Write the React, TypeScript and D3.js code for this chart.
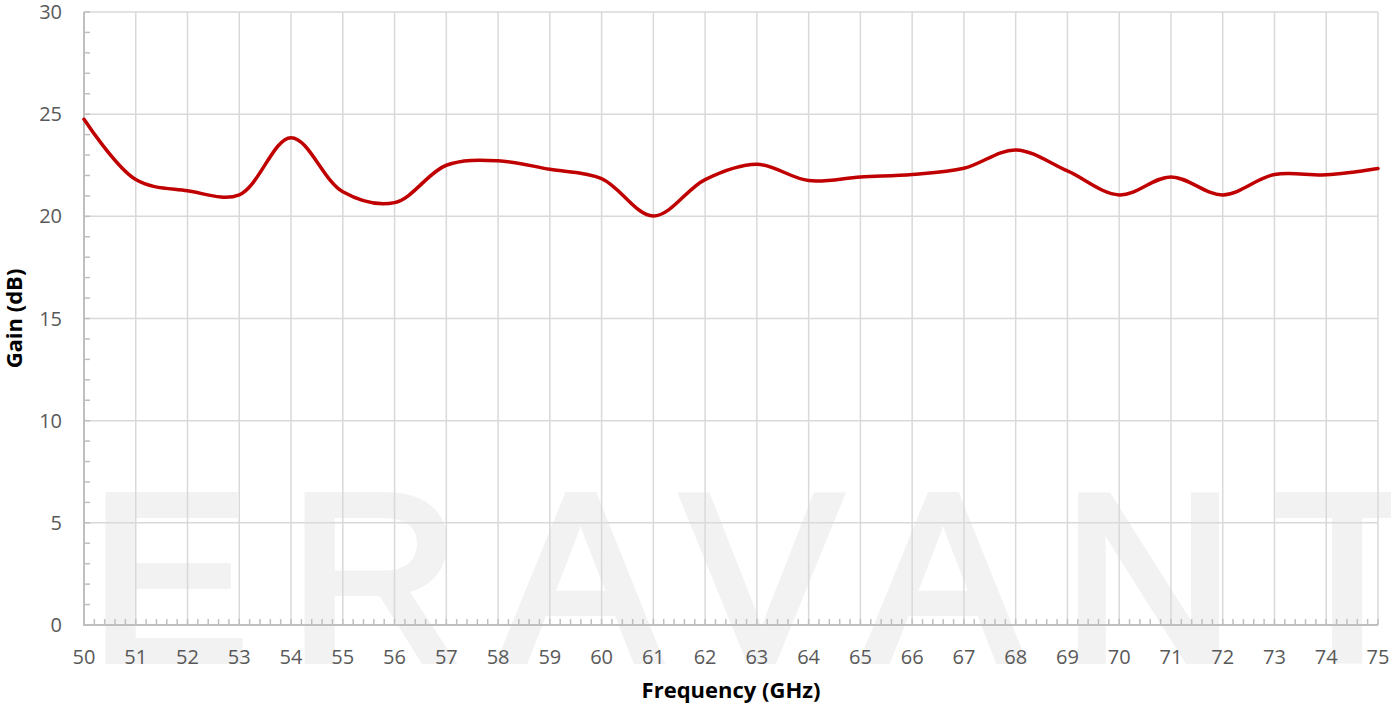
import React, { useEffect, useRef } from 'react';
import * as d3 from 'd3';

const freqs = [50, 51, 52, 53, 54, 55, 56, 57, 58, 59, 60, 61, 62, 63, 64, 65, 66, 67, 68, 69, 70, 71, 72, 73, 74, 75];
const gain = [24.75, 21.8, 21.25, 21.05, 23.85, 21.2, 20.67, 22.5, 22.72, 22.3, 21.85, 20.02, 21.8, 22.55, 21.75, 21.93, 22.05, 22.35, 23.25, 22.22, 21.05, 21.93, 21.05, 22.05, 22.03, 22.34];
const yTicks = [0, 5, 10, 15, 20, 25, 30];
const xTicks = d3.range(50, 76);

const App = () => {
  const svgRef = useRef<SVGSVGElement>(null);

  useEffect(() => {
    const svg = d3.select(svgRef.current);
    svg.selectAll('*').remove();

    const width = 1391;
    const height = 704;
    const margin = { top: 12, right: 13, bottom: 79, left: 84 };
    const font = '"Open Sans", "Liberation Sans", sans-serif';

    const x = d3.scaleLinear().domain([50, 75]).range([margin.left, width - margin.right]);
    const y = d3.scaleLinear().domain([0, 30]).range([height - margin.bottom, margin.top]);

    svg.append('rect').attr('width', width).attr('height', height).attr('fill', '#fff');

    // watermark
    svg.append('text')
      .attr('x', 90)
      .attr('y', 660)
      .attr('textLength', 1330)
      .attr('lengthAdjust', 'spacing')
      .attr('font-family', '"Liberation Sans", Arial, sans-serif')
      .attr('font-size', 238)
      .attr('fill', '#f2f2f2')
      .attr('stroke', '#f2f2f2')
      .attr('stroke-width', 8)
      .attr('stroke-linejoin', 'miter')
      .text('ERAVANT');

    // grid
    svg.append('g')
      .selectAll('line')
      .data(xTicks.slice(1))
      .enter()
      .append('line')
      .attr('x1', d => x(d)).attr('x2', d => x(d))
      .attr('y1', y(30)).attr('y2', y(0))
      .attr('stroke', '#d9d9d9')
      .attr('stroke-width', 1.5);

    svg.append('g')
      .selectAll('line')
      .data(yTicks.slice(1))
      .enter()
      .append('line')
      .attr('x1', x(50)).attr('x2', x(75))
      .attr('y1', d => y(d)).attr('y2', d => y(d))
      .attr('stroke', '#d9d9d9')
      .attr('stroke-width', 1.5);

    // minor ticks
    svg.append('g')
      .selectAll('line')
      .data(d3.range(0, 31, 1))
      .enter()
      .append('line')
      .attr('x1', x(50)).attr('x2', x(50) + 6)
      .attr('y1', d => y(d)).attr('y2', d => y(d))
      .attr('stroke', '#bfbfbf')
      .attr('stroke-width', 1.5);

    svg.append('g')
      .selectAll('line')
      .data(d3.range(0, 126).map(i => 50 + i * 0.2))
      .enter()
      .append('line')
      .attr('x1', d => x(d)).attr('x2', d => x(d))
      .attr('y1', y(0)).attr('y2', y(0) - 6)
      .attr('stroke', '#bfbfbf')
      .attr('stroke-width', 1.5);

    // axis lines
    svg.append('line')
      .attr('x1', x(50)).attr('x2', x(50))
      .attr('y1', y(30)).attr('y2', y(0) + 1)
      .attr('stroke', '#bfbfbf').attr('stroke-width', 2);
    svg.append('line')
      .attr('x1', x(50) - 1).attr('x2', x(75))
      .attr('y1', y(0)).attr('y2', y(0))
      .attr('stroke', '#bfbfbf').attr('stroke-width', 2);

    // tick labels
    svg.append('g')
      .selectAll('text')
      .data(yTicks)
      .enter()
      .append('text')
      .attr('x', 62)
      .attr('y', d => y(d))
      .attr('dy', '0.35em')
      .attr('text-anchor', 'end')
      .attr('font-family', font)
      .attr('font-size', 20)
      .attr('fill', '#595959')
      .text(d => d);

    svg.append('g')
      .selectAll('text')
      .data(xTicks)
      .enter()
      .append('text')
      .attr('x', d => x(d))
      .attr('y', 664)
      .attr('text-anchor', 'middle')
      .attr('font-family', font)
      .attr('font-size', 20)
      .attr('fill', '#595959')
      .text(d => d);

    // axis titles
    svg.append('text')
      .attr('x', (x(50) + x(75)) / 2)
      .attr('y', 698)
      .attr('text-anchor', 'middle')
      .attr('font-family', font)
      .attr('font-weight', 'bold')
      .attr('font-size', 22)
      .attr('fill', '#000')
      .text('Frequency (GHz)');

    svg.append('text')
      .attr('transform', `translate(22,${(y(0) + y(30)) / 2}) rotate(-90)`)
      .attr('text-anchor', 'middle')
      .attr('font-family', font)
      .attr('font-weight', 'bold')
      .attr('font-size', 22)
      .attr('fill', '#000')
      .text('Gain (dB)');

    // series
    const line = d3.line<number>()
      .x((d, i) => x(freqs[i]))
      .y(d => y(d))
      .curve(d3.curveCatmullRom);

    svg.append('path')
      .datum(gain)
      .attr('d', line)
      .attr('fill', 'none')
      .attr('stroke', '#c00000')
      .attr('stroke-width', 3.5)
      .attr('stroke-linejoin', 'round')
      .attr('stroke-linecap', 'round');
  }, []);

  return (
    <svg
      ref={svgRef}
      width={1391}
      height={704}
      style={{ position: 'absolute', left: 0, top: 0, display: 'block' }}
    />
  );
};

export default App;
